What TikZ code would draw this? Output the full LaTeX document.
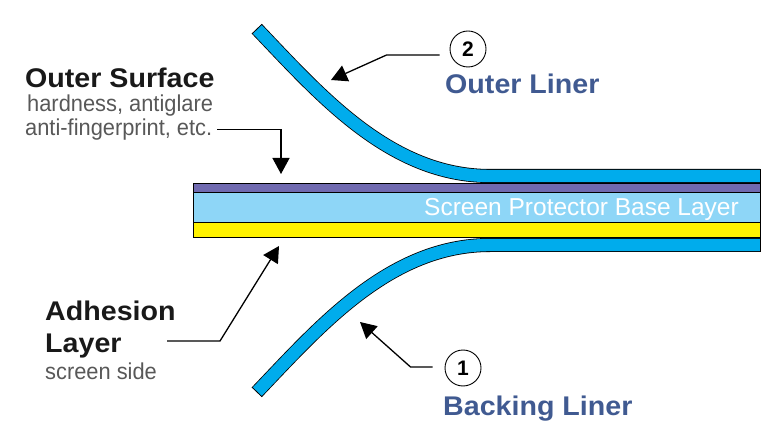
\documentclass[tikz,border=0pt]{standalone}
\usepackage{fontspec}
\setmainfont{Liberation Sans}
\usetikzlibrary{arrows.meta,positioning,calc}
\definecolor{linerblue}{RGB}{0,172,236}
\definecolor{topcoat}{RGB}{112,106,176}
\definecolor{baselayer}{RGB}{142,214,247}
\definecolor{glue}{RGB}{255,242,0}
\definecolor{captiongray}{RGB}{88,88,88}
\definecolor{linername}{RGB}{64,90,145}

\begin{document}
\begin{tikzpicture}[x=1pt,y=-1pt,
    lbl/.style={anchor=base west,inner sep=0pt},
    head/.style={lbl,font=\fontsize{27}{27}\selectfont\bfseries,xscale=1.06,text=black!90},
    note/.style={lbl,font=\fontsize{23}{23}\selectfont,xscale=0.95,text=captiongray},
    liner/.style={double=linerblue,double distance=12.4pt,line width=0.8pt},
    num/.style={circle,draw,line width=0.9pt,minimum size=36pt,inner sep=0pt,
        font=\fontsize{21}{21}\selectfont\bfseries},
    ptr/.style={line width=1.3pt,-{Triangle[length=16pt,width=17pt]}}]
  \useasboundingbox (0,0) rectangle (778,427);

  % the two liners peeling off
  \coordinate (otop) at (257,29);
  \coordinate (btop) at (257,392);
  \draw[liner] (otop) .. controls (320,95) and (390,176) .. (490,176) -- (760,176);
  \draw[liner] (btop) .. controls (320,326) and (390,245) .. (490,245) -- (760,245);
  \foreach \e/\c in {otop/{(320,95)},btop/{(320,326)}} {
    \draw[line width=0.8pt] ($(\e)!7pt!90:\c$) -- ($(\e)!7pt!-90:\c$);
  }
  \draw[line width=0.8pt] (760,169.4) -- (760,182.6) (760,238.4) -- (760,251.6);

  % layer stack
  \filldraw[fill=topcoat,line width=0.6pt] (193,183.3) rectangle (760,192.3);
  \filldraw[fill=baselayer,line width=0.6pt] (193,192.3) rectangle (760,222.7);
  \filldraw[fill=glue,line width=0.6pt] (193,222.7) rectangle (760,237.7);
  \node[anchor=base east,inner sep=0pt,text=white,font=\fontsize{24.5}{24.5}\selectfont] (base) at (739,216) {Screen Protector Base Layer};

  % labels
  \node[head,text depth=0pt] (surf) at (25,88) {Outer Surface};
  \node[note] (hard) at (27,112) {hardness, antiglare};
  \node[note] (anti) at (25,135.5) {anti-fingerprint, etc.};
  \node[head] (adh) at (45,320) {Adhesion};
  \node[head] (lay) at (45,352) {Layer};
  \node[note] (side) at (45,379) {screen side};
  \node[num] (n2) at (468,49) {2};
  \node[head,text=linername] (outl) at (445,94) {Outer Liner};
  \node[num] (n1) at (463,368) {1};
  \node[head,text=linername] (backl) at (443,415) {Backing Liner};

  % pointers
  \coordinate (surftip) at (281,174);
  \coordinate (adhstart) at (167,341);
  \coordinate (adhtip) at (279,246);
  \coordinate (outtip) at (331,80);
  \coordinate (backtip) at (360,322);
  \draw[ptr] ([xshift=5pt]anti.east) -| (surftip);
  \draw[ptr] (adhstart) -- ++(53,0) -- (adhtip);
  \draw[ptr] ([xshift=-10pt,yshift=-6pt]n2.west) -- ++(-53,0) -- (outtip);
  \draw[ptr] ([xshift=-12pt,yshift=1pt]n1.west) -- ++(-22,0) -- (backtip);
\end{tikzpicture}
\end{document}
